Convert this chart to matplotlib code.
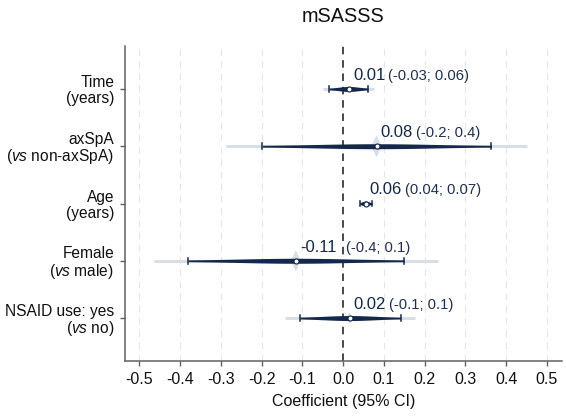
import numpy as np
import matplotlib
matplotlib.use("Agg")
import matplotlib.pyplot as plt
from matplotlib.patches import Polygon

plt.rcParams['font.family'] = ['Liberation Sans', 'DejaVu Sans']
plt.rcParams['mathtext.fontset'] = 'custom'
plt.rcParams['mathtext.it'] = 'Liberation Sans:italic'
plt.rcParams['mathtext.rm'] = 'Liberation Sans'

# ---- data ----
labels = ["Time\n(years)", "axSpA\n($\\it{vs}$ non-axSpA)", "Age\n(years)",
          "Female\n($\\it{vs}$ male)", "NSAID use: yes\n($\\it{vs}$ no)"]
estimates = [0.014, 0.082, 0.055, -0.116, 0.016]
ci_low = [-0.035, -0.198, 0.041, -0.380, -0.106]
ci_high = [0.061, 0.364, 0.071, 0.150, 0.141]
outer_low = [-0.050, -0.288, 0.041, -0.463, -0.143]
outer_high = [0.075, 0.452, 0.071, 0.233, 0.177]
est_text = ["0.01", "0.08", "0.06", "-0.11", "0.02"]
ci_text = ["(-0.03; 0.06)", "(-0.2; 0.4)", "(0.04; 0.07)", "(-0.4; 0.1)", "(-0.1; 0.1)"]
xticks = [-0.5, -0.4, -0.3, -0.2, -0.1, 0.0, 0.1, 0.2, 0.3, 0.4, 0.5]
xticklabels = ["-0.5", "-0.4", "-0.3", "-0.2", "-0.1", "0.0", "0.1", "0.2", "0.3", "0.4", "0.5"]
title = "mSASSS"
xlabel = "Coefficient (95% CI)"

navy = "#13284a"
W, H = 566, 418
fig = plt.figure(figsize=(W / 100, H / 100), dpi=100)
ax_l, ax_r, ax_b, ax_t = 125, 562, 361, 46
ax = fig.add_axes([ax_l / W, 1 - ax_b / H, (ax_r - ax_l) / W, (ax_b - ax_t) / H])
ax.set_xlim(-0.535, 0.537)
ax.set_ylim(5.75, 0.25)
rows = np.arange(1, len(labels) + 1)

px_x = (0.537 + 0.535) / (ax_r - ax_l)   # data units per px in x
px_y = 5.5 / (ax_b - ax_t)               # data units per px in y

# grid
for xt in xticks:
    if xt == 0:
        continue
    ax.axvline(xt, color="#e4e6ea", lw=0.8, dashes=(6, 5), zorder=0)
ax.axvline(0, color="#2a2a2a", lw=1.2, dashes=(4.5, 3.5), zorder=1)

for r, e, lo, hi, olo, ohi in zip(rows, estimates, ci_low, ci_high, outer_low, outer_high):
    # outer light interval
    ax.plot([olo, ohi], [r, r], color="#d9dde4", lw=2.2, solid_capstyle="butt", zorder=2)
    # glow at estimate
    width = hi - lo
    hh = (2 + 16 * width) * px_y
    hw = (2 + 6 * width) * px_x
    glow = Polygon([[e - hw, r], [e, r - hh], [e + hw, r], [e, r + hh]], closed=True,
                   facecolor="#b7c0d0", edgecolor="none", alpha=0.5, zorder=3)
    ax.add_patch(glow)
    # tapered lens
    xs = np.linspace(lo, hi, 200)
    sig = width / 3.92
    th = (0.6 + 1.9 * np.exp(-0.5 * ((xs - e) / sig) ** 2)) * px_y
    ax.fill_between(xs, r - th, r + th, color=navy, lw=0, zorder=4)
    # caps
    for c in (lo, hi):
        ax.plot([c, c], [r - 2.8 * px_y, r + 2.8 * px_y], color=navy, lw=1.1, zorder=4)
    ax.plot([e], [r], marker="o", ms=3.6, mfc="white", mec=navy, mew=0.8, zorder=5)

ax.set_yticks(rows)
ax.set_yticklabels(labels, fontsize=11.2, linespacing=1.05)
ax.set_xticks(xticks)
ax.set_xticklabels(xticklabels, fontsize=11.5)
for s in ("top", "right"):
    ax.spines[s].set_visible(False)
for s in ("left", "bottom"):
    ax.spines[s].set_color("#606060")
    ax.spines[s].set_linewidth(1.1)
ax.tick_params(axis="both", colors="#606060", labelcolor="#111111", length=3.8, width=1.0)
ax.tick_params(axis="y", pad=4)
ax.tick_params(axis="x", pad=4)

fig.text(0.5 * (ax_l + ax_r) / W, 1 - 16 / H, title, ha="center", va="center", fontsize=14.3, color="#111111")
fig.text(0.5 * (ax_l + ax_r) / W, 1 - 401.5 / H, xlabel, ha="center", va="center", fontsize=11.5, color="#111111")

# annotations
fig.canvas.draw()
renderer = fig.canvas.get_renderer()
for r, e, et, ct in zip(rows, estimates, est_text, ci_text):
    t1 = ax.annotate(et, xy=(e, r), xytext=(3, 4.5), textcoords="offset points",
                     ha="left", va="bottom", fontsize=12, color=navy, zorder=6)
    bb = t1.get_window_extent(renderer)
    x0_disp = ax.transData.transform((0, 0))[0]
    xstart = max(bb.x1 + 3, x0_disp + 3)
    xdata = ax.transData.inverted().transform((xstart, 0))[0]
    ax.annotate(ct, xy=(xdata, r), xytext=(0, 4.5), textcoords="offset points",
                ha="left", va="bottom", fontsize=10.6, color="#1f3050", zorder=6)

fig.savefig("out.png", dpi=100)
